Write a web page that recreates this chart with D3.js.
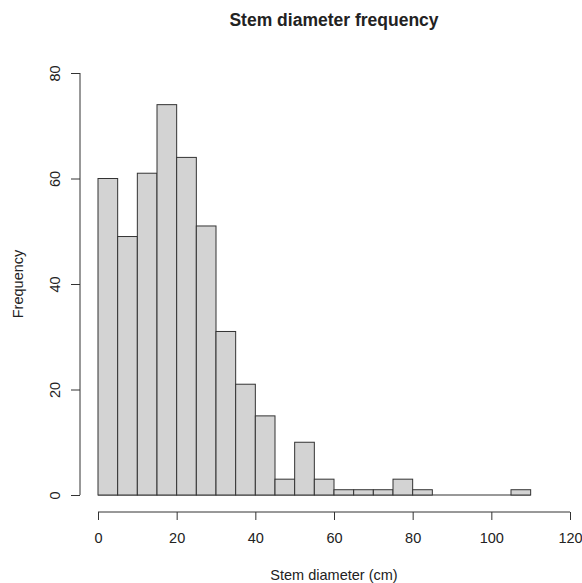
<!DOCTYPE html>
<html lang="en">
<head>
<meta charset="UTF-8">
<title>Stem diameter frequency</title>
<script src="https://d3js.org/d3.v7.min.js"></script>
<style>
  body { margin: 0; background: #fff; }
  text { font-family: "Liberation Sans", Arial, sans-serif; fill: #222; }
</style>
</head>
<body>
<script>
// bin edges (cm) and counts per bin, width 5
const binStarts = [0, 5, 10, 15, 20, 25, 30, 35, 40, 45, 50, 55, 60, 65, 70, 75, 80, 85, 90, 95, 100, 105];
const counts = [60, 49, 61, 74, 64, 51, 31, 21, 15, 3, 10, 3, 1, 1, 1, 3, 1, 0, 0, 0, 0, 1];
const binWidth = 5;
const xTicks = [0, 20, 40, 60, 80, 100, 120];
const yTicks = [0, 20, 40, 60, 80];

const W = 582, H = 583;
const svg = d3.select("body").append("svg")
    .attr("width", W)
    .attr("height", H);

const x = d3.scaleLinear().domain([0, 120]).range([98, 570]);
const y = d3.scaleLinear().domain([0, 80]).range([495, 73]);

const bins = binStarts.map((s, i) => ({ x0: s, x1: s + binWidth, n: counts[i] }));

// baseline under the empty bins (R draws them as flat rects)
svg.append("line")
    .attr("x1", x(binStarts[0])).attr("x2", x(binStarts[binStarts.length - 1] + binWidth))
    .attr("y1", y(0)).attr("y2", y(0))
    .attr("stroke", "#333");

// bars
svg.append("g")
    .selectAll("rect")
    .data(bins.filter(d => d.n > 0))
    .enter().append("rect")
    .attr("x", d => x(d.x0))
    .attr("y", d => y(d.n))
    .attr("width", d => x(d.x1) - x(d.x0))
    .attr("height", d => y(0) - y(d.n))
    .attr("fill", "#d3d3d3")
    .attr("stroke", "#333")
    .attr("stroke-width", 1);

// x axis
const xAxis = svg.append("g")
    .attr("transform", "translate(0,512)")
    .call(d3.axisBottom(x).tickValues(xTicks).tickSize(8).tickPadding(13).tickSizeOuter(0));
xAxis.select(".domain").attr("stroke", "#333").attr("d", `M${x(0)},0H${x(120)}`);
xAxis.selectAll(".tick line").attr("stroke", "#333");
xAxis.selectAll("text").attr("font-size", 14.5).attr("fill", "#222")
    .attr("font-family", "Liberation Sans, Arial, sans-serif");

// y axis
const yAxis = svg.append("g")
    .attr("transform", "translate(80,0)")
    .call(d3.axisLeft(y).tickValues(yTicks).tickSize(9).tickSizeOuter(0));
yAxis.select(".domain").attr("stroke", "#333").attr("d", `M0,${y(0)}V${y(80)}`);
yAxis.selectAll(".tick line").attr("stroke", "#333");
yAxis.selectAll("text")
    .attr("font-size", 14.5).attr("fill", "#222")
    .attr("font-family", "Liberation Sans, Arial, sans-serif")
    .attr("x", null).attr("dy", null)
    .attr("text-anchor", "middle")
    .attr("transform", "translate(-25,0) rotate(-90)")
    .attr("dominant-baseline", "central");

// titles
svg.append("text")
    .attr("x", 334).attr("y", 26)
    .attr("text-anchor", "middle")
    .attr("font-size", 17.5)
    .attr("font-weight", "bold")
    .text("Stem diameter frequency");

svg.append("text")
    .attr("x", 334).attr("y", 580)
    .attr("text-anchor", "middle")
    .attr("font-size", 14.5)
    .text("Stem diameter (cm)");

svg.append("text")
    .attr("transform", `translate(23,${(y(0) + y(80)) / 2}) rotate(-90)`)
    .attr("text-anchor", "middle")
    .attr("font-size", 14.5)
    .text("Frequency");
</script>
</body>
</html>
